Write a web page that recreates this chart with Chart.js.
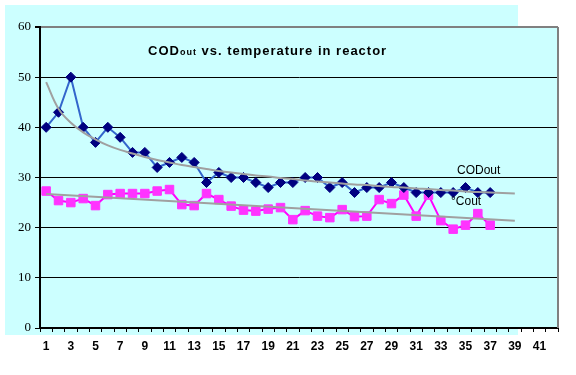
<!DOCTYPE html>
<html>
<head>
<meta charset="utf-8">
<script src="https://cdn.jsdelivr.net/npm/chart.js@4.4.0/dist/chart.umd.min.js"></script>
<style>
  html, body { margin: 0; padding: 0; background: #fff; }
  #wrap { width: 576px; height: 375px; }
</style>
</head>
<body>
<div id="wrap"><canvas id="chart" width="576" height="375"></canvas></div>
<script>
// categories on the x axis (only odd ones are labelled)
var categories = ['1','2','3','4','5','6','7','8','9','10','11','12','13','14','15','16','17','18','19','20','21',
                  '22','23','24','25','26','27','28','29','30','31','32','33','34','35','36','37','38','39','40','41','42'];

// CODout
var codOut = [40, 43, 50, 40, 37, 40, 38, 35, 35, 32, 33, 34, 33, 29, 31, 30, 30, 29, 28, 29, 29,
              30, 30, 28, 29, 27, 28, 28, 29, 28, 27, 27, 27, 27, 28, 27, 27];

// °Cout
var tempOut = [27.3, 25.4, 25, 25.8, 24.4, 26.6, 26.8, 26.8, 26.8, 27.3, 27.6, 24.6, 24.4, 26.8, 25.6, 24.3, 23.5,
               23.3, 23.7, 24, 21.6, 23.4, 22.3, 22, 23.6, 22.2, 22.3, 25.6, 24.8, 26.5, 22.3, 26.5, 21.4, 19.7,
               20.5, 22.8, 20.5];

// trend lines
var codTrend = [49.0, 43.7, 40.9, 39.0, 37.6, 36.4, 35.5, 34.8, 34.1, 33.5, 33.0, 32.5, 32.1, 31.7, 31.3, 31.0,
                30.7, 30.4, 30.2, 29.9, 29.7, 29.4, 29.2, 29.0, 28.8, 28.6, 28.5, 28.3, 28.1, 28.0, 27.8, 27.7,
                27.5, 27.4, 27.2, 27.1, 27.0, 26.9, 26.8];
var tempTrend = [26.7, null, null, null, null, null, null, null, null, null, null, null, null, null, null, null,
                 null, null, null, null, null, null, null, null, null, null, null, null, null, null, null, null,
                 null, null, null, null, null, null, 21.4];

var yTicks = [0, 10, 20, 30, 40, 50, 60];

var decor = {
    id: 'decor',
    beforeDraw: function (chart) {
        var ctx = chart.ctx, a = chart.chartArea;
        ctx.save();
        ctx.fillStyle = '#ccffff';
        ctx.fillRect(5, 5, 513, 330);
        ctx.fillRect(a.left, a.top, a.right - a.left, a.bottom - a.top);
        ctx.restore();
    },
    beforeDatasetsDraw: function (chart) {
        var ctx = chart.ctx, a = chart.chartArea;
        ctx.save();
        ctx.strokeStyle = '#808080';
        ctx.lineWidth = 2;
        ctx.beginPath();
        ctx.moveTo(a.right, a.top);
        ctx.lineTo(a.right, a.bottom);
        ctx.stroke();
        ctx.restore();
    },
    afterDraw: function (chart) {
        var ctx = chart.ctx;
        ctx.save();
        ctx.fillStyle = '#000';
        ctx.textBaseline = 'alphabetic';
        ctx.textAlign = 'left';
        ctx.letterSpacing = '1px';
        var x = 148, y = 55;
        ctx.font = 'bold 13px "Liberation Sans", Arial, sans-serif';
        ctx.fillText('COD', x, y);
        x += ctx.measureText('COD').width;
        ctx.font = 'bold 9px "Liberation Sans", Arial, sans-serif';
        ctx.fillText('out', x, y);
        x += ctx.measureText('out').width;
        ctx.font = 'bold 13px "Liberation Sans", Arial, sans-serif';
        ctx.fillText(' vs. temperature in reactor', x, y);

        ctx.letterSpacing = '0px';
        ctx.font = '12px "Liberation Sans", Arial, sans-serif';
        ctx.textBaseline = 'middle';
        ctx.fillText('CODout', 457, 171);
        ctx.fillText('°Cout', 451, 202);
        ctx.restore();
    }
};

new Chart(document.getElementById('chart').getContext('2d'), {
    type: 'line',
    data: {
        labels: categories,
        datasets: [
            {
                data: codTrend,
                borderColor: '#a0a0a0',
                borderWidth: 2,
                pointRadius: 0,
                tension: 0.4,
                fill: false
            },
            {
                data: tempTrend,
                borderColor: '#a0a0a0',
                borderWidth: 2,
                pointRadius: 0,
                spanGaps: true,
                fill: false
            },
            {
                data: codOut,
                borderColor: '#3366cc',
                borderWidth: 2,
                pointStyle: 'rectRot',
                pointRadius: 5,
                pointBackgroundColor: '#000080',
                pointBorderColor: '#000080',
                pointBorderWidth: 1,
                tension: 0,
                fill: false
            },
            {
                data: tempOut,
                borderColor: '#ff00ff',
                borderWidth: 2,
                pointStyle: 'rect',
                pointRadius: 6,
                pointBackgroundColor: '#ff33ff',
                pointBorderColor: '#ff33ff',
                pointBorderWidth: 1,
                tension: 0,
                fill: false
            }
        ]
    },
    options: {
        responsive: false,
        devicePixelRatio: 1,
        animation: false,
        layout: { padding: { left: 0, top: 27, right: 18, bottom: 0 } },
        plugins: {
            legend: { display: false },
            tooltip: { enabled: false }
        },
        scales: {
            x: {
                offset: true,
                grid: {
                    offset: true,
                    drawOnChartArea: false,
                    drawTicks: true,
                    tickLength: 4,
                    color: '#000',
                    lineWidth: 1
                },
                border: { color: '#000', width: 2 },
                ticks: {
                    autoSkip: false,
                    maxRotation: 0,
                    padding: 7,
                    color: '#000',
                    font: { family: '"Liberation Sans", Arial, sans-serif', size: 12, weight: 'bold' },
                    callback: function (val, i) { return i % 2 === 0 ? categories[i] : ''; }
                },
                afterFit: function (s) { s.height = 47; }
            },
            y: {
                min: 0,
                max: 60,
                afterBuildTicks: function (s) { s.ticks = yTicks.map(function (v) { return { value: v }; }); },
                grid: {
                    color: function (c) { return c.tick && c.tick.value === 60 ? '#808080' : '#000'; },
                    lineWidth: function (c) { return c.tick && c.tick.value === 60 ? 2 : 1; },
                    tickLength: 5,
                    tickColor: '#000'
                },
                border: { color: '#000', width: 2 },
                ticks: {
                    padding: 4,
                    color: '#000',
                    font: { family: '"Liberation Serif", "Times New Roman", serif', size: 13 }
                },
                afterFit: function (s) { s.width = 40; }
            }
        }
    },
    plugins: [decor]
});
</script>
</body>
</html>
